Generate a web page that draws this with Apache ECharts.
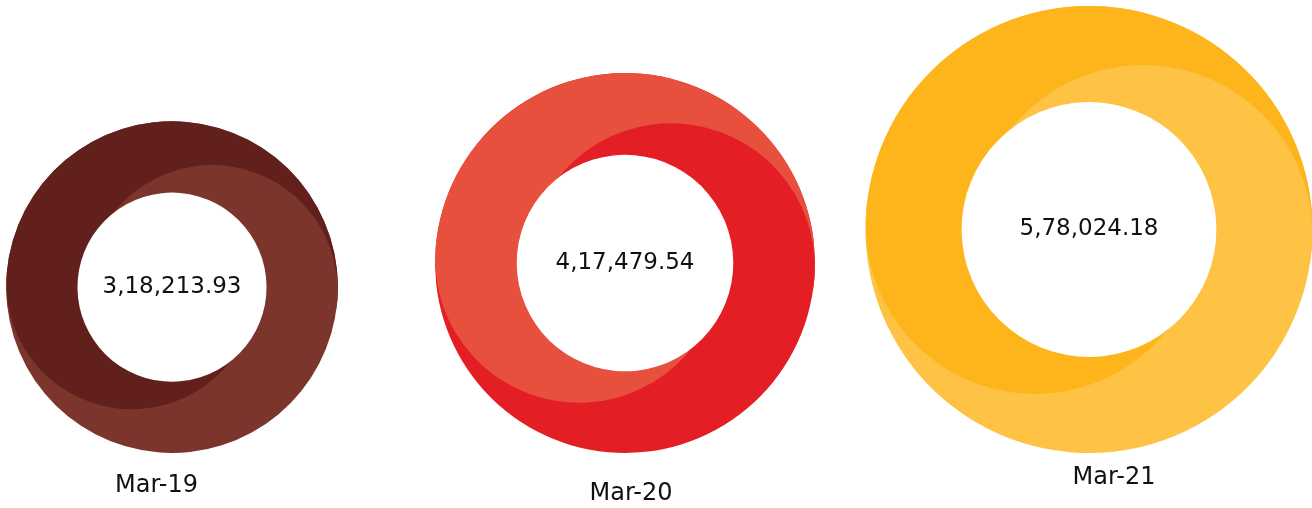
<!DOCTYPE html>
<html>
<head>
<meta charset="utf-8">
<script src="https://cdn.jsdelivr.net/npm/echarts@6/dist/echarts.min.js"></script>
<style>
  html, body { margin: 0; padding: 0; background: #ffffff; }
  #chart { width: 1312px; height: 508px; }
</style>
</head>
<body>
<div id="chart"></div>
<script>
// ---- data ----
const categories = ['Mar-19', 'Mar-20', 'Mar-21'];
const values = [318213.93, 417479.54, 578024.18];
const colorsA = ['#62201d', '#e7503d', '#feb51c'];
const colorsB = ['#7c352c', '#e31e25', '#fec344'];

// ---- layout ----
const centerX = [172, 625, 1089];
const baseY = 453;
const labelPos = [[156.5, 486], [631, 493.5], [1114, 478]];
const radiusK = 0.294;          // outer radius = k * sqrt(value)
const offsetRatio = 0.243;      // swirl offset relative to outer radius
const holeRatio = 0.57;
const tiltDeg = 5;
const FONT = '"DejaVu Sans", sans-serif';

function fmtIN(v) {
  const parts = v.toFixed(2).split('.');
  const i = parts[0];
  let last3 = i.slice(-3);
  let rest = i.slice(0, -3);
  if (rest) last3 = ',' + last3;
  rest = rest.replace(/\B(?=(\d{2})+(?!\d))/g, ',');
  return rest + last3 + '.' + parts[1];
}

const T = 'rgba(0,0,0,0)';
const base = {
  type: 'pie',
  silent: true,
  animation: false,
  clockwise: true,
  avoidLabelOverlap: false,
  stillShowZeroSum: true,
  label: { show: false },
  labelLine: { show: false },
  emphasis: { disabled: true },
  itemStyle: { borderWidth: 0 }
};

const series = [];
const graphics = [];
const split = 180 - tiltDeg;     // angle of the split line (left end)
values.forEach(function (v, k) {
  const R = radiusK * Math.sqrt(v);
  const cx = centerX[k];
  const cy = baseY - R;
  const d = offsetRatio * R;
  const r = R - d;
  const t = tiltDeg * Math.PI / 180;
  const ux = Math.cos(t), uy = Math.sin(t);
  const A = colorsA[k], B = colorsB[k];
  // outer disc, colour B underneath
  series.push(Object.assign({}, base, {
    center: [cx, cy], radius: [0, R], startAngle: split,
    data: [{ value: 1, itemStyle: { color: B } }]
  }));
  // outer disc top half, colour A
  series.push(Object.assign({}, base, {
    center: [cx, cy], radius: [0, R], startAngle: split,
    data: [
      { value: 180, itemStyle: { color: A } },
      { value: 180, itemStyle: { color: T } }
    ]
  }));
  // right circle, top half (slightly widened), colour B
  series.push(Object.assign({}, base, {
    center: [cx + d * ux, cy + d * uy], radius: [0, r], startAngle: split + 2,
    data: [
      { value: 186, itemStyle: { color: B } },
      { value: 174, itemStyle: { color: T } }
    ]
  }));
  // left circle, bottom half (slightly widened), colour A
  series.push(Object.assign({}, base, {
    center: [cx - d * ux, cy - d * uy], radius: [0, r], startAngle: split - 2,
    data: [
      { value: 170, itemStyle: { color: T } },
      { value: 190, itemStyle: { color: A } }
    ]
  }));
  // white hole with value
  series.push(Object.assign({}, base, {
    center: [cx, cy], radius: [0, holeRatio * R], startAngle: split,
    label: {
      show: true, position: 'center',
      formatter: fmtIN(v),
      fontFamily: FONT, fontSize: 23, color: '#111111'
    },
    data: [{ value: v, name: categories[k], itemStyle: { color: '#ffffff' } }]
  }));
  graphics.push({
    type: 'text',
    x: labelPos[k][0], y: labelPos[k][1],
    style: {
      text: categories[k],
      fill: '#111111',
      font: '24px ' + FONT,
      textAlign: 'center',
      textVerticalAlign: 'middle'
    }
  });
});

const chart = echarts.init(document.getElementById('chart'), null, { renderer: 'canvas' });
chart.setOption({
  backgroundColor: '#ffffff',
  animation: false,
  series: series,
  graphic: graphics
});
</script>
</body>
</html>
